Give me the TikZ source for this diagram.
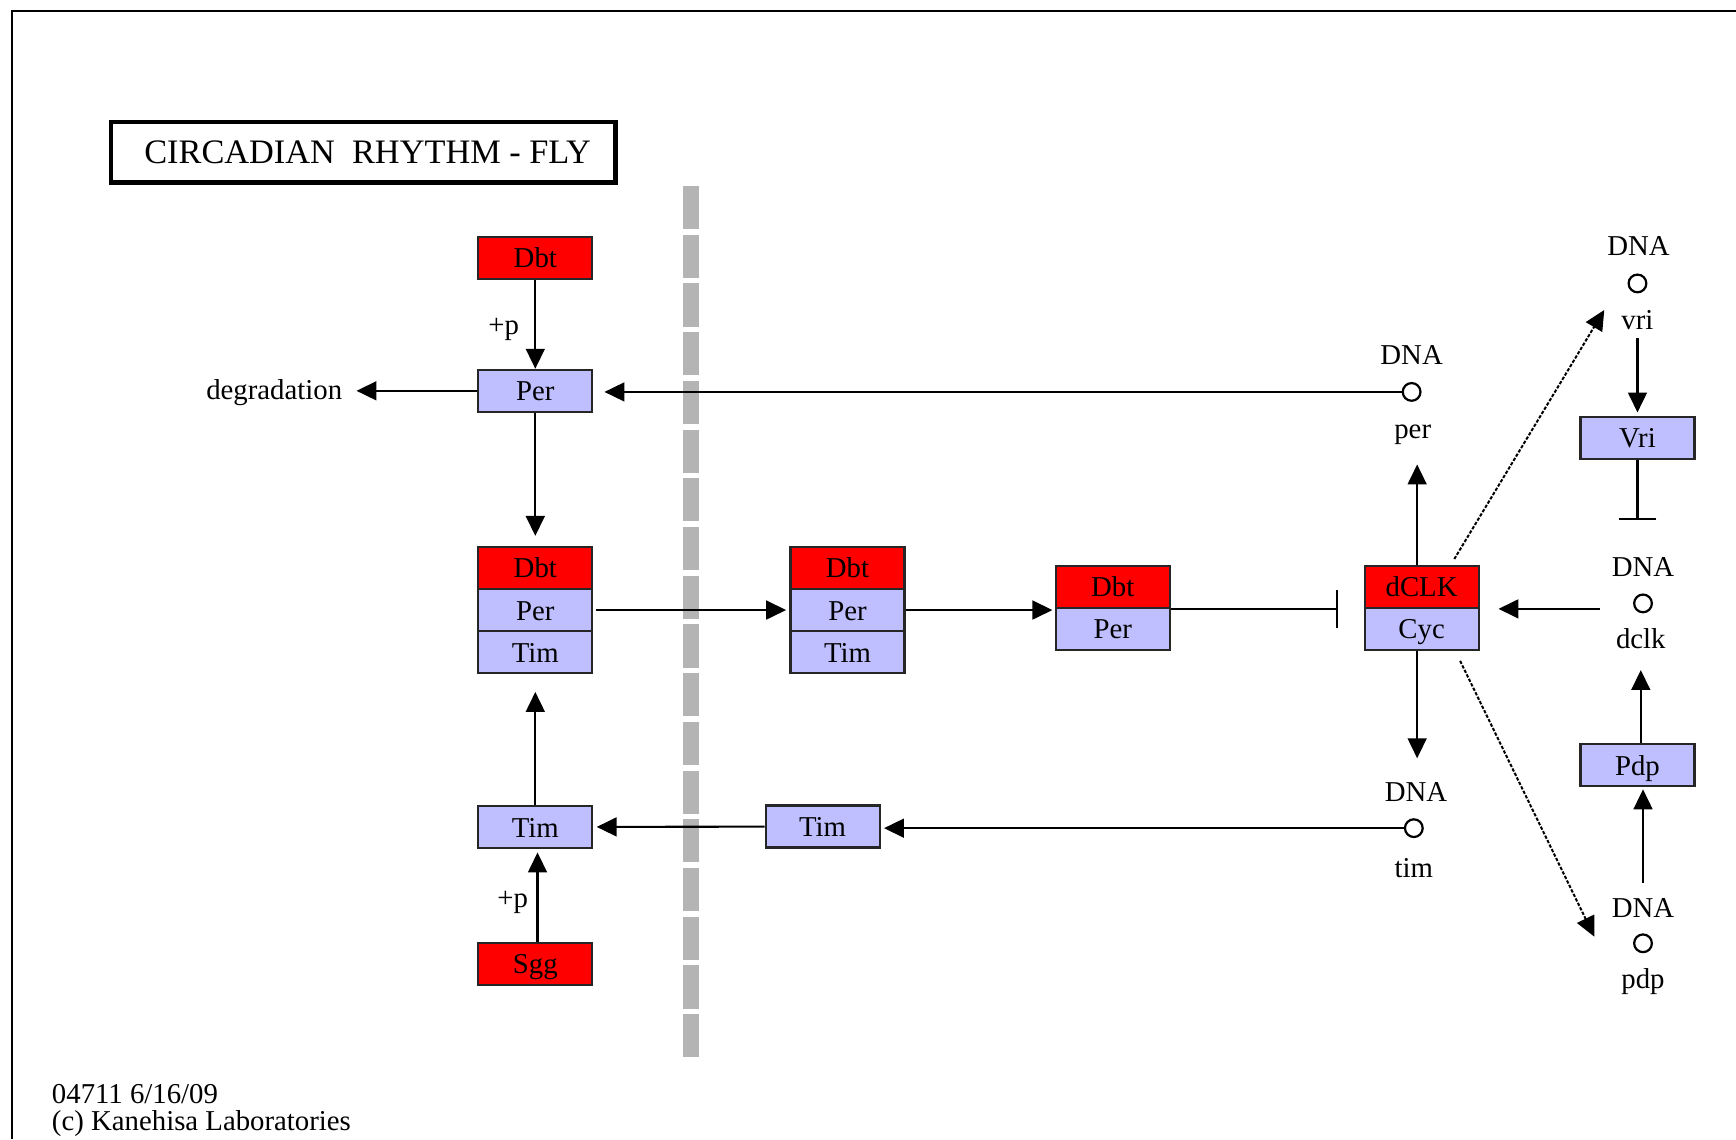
\documentclass[tikz,border=0pt]{standalone}
\usepackage{fontspec}
\setmainfont{Liberation Serif}
\usetikzlibrary{arrows.meta}

\definecolor{protblue}{RGB}{191,191,255}
\definecolor{kinred}{RGB}{255,0,0}
\definecolor{membrane}{RGB}{180,180,180}

\begin{document}
\begin{tikzpicture}[
    x=1pt, y=-1pt,
    font=\fontsize{26pt}{28pt}\selectfont,
    >={Triangle[length=18pt,width=17pt]},
    line width=1.9pt,
    prot/.style={
        draw=black!85,
        fill=protblue,
        rectangle,
        minimum width=103pt,
        minimum height=38pt,
        inner sep=0pt,
        text height=19pt,
        text depth=1pt
    },
    kin/.style={prot, fill=kinred},
    dna/.style={draw, circle, minimum size=16pt, inner sep=0pt, line width=2pt},
    dnatxt/.style={inner sep=0pt, anchor=base},
    act/.style={->},
    inh/.style={-{Bar[width=34pt]}},
    expr/.style={->, dash pattern=on 3pt off 1.5pt, line width=1.8pt}
]
\useasboundingbox (0,0) rectangle (1568,1029);

% frame and cell membrane
\draw[line width=2.2pt] (11,1029) -- (11,10) -- (1568,10);
\draw[membrane, line width=14pt, dash pattern=on 39pt off 5pt] (624,168) -- (624,955);

\node[draw, line width=4pt, minimum width=456pt, minimum height=55pt,
      font=\fontsize{31pt}{33pt}\selectfont] (title) at (328,137.5) {\hspace{8pt}CIRCADIAN\ \ RHYTHM - FLY};

% cytoplasm
\node[kin] (dbt1) at (483.5,233) {Dbt};
\node[prot] (per1) at (483.5,353) {Per};
\node[inner sep=0pt, anchor=base east] (degr) at (310,361) {degradation};
\node[kin] (cx1dbt) at (483.5,513) {Dbt};
\node[prot] (cx1per) at (483.5,551) {Per};
\node[prot] (cx1tim) at (483.5,589) {Tim};
\node[prot] (tim1) at (483.5,747) {Tim};
\node[kin] (sgg) at (483.5,870.5) {Sgg};
\node[inner sep=0pt, anchor=base] (p1) at (455,302) {+p};
\node[inner sep=0pt, anchor=base] (p2) at (463,820) {+p};

% nucleus
\node[kin] (cx2dbt) at (765.5,513) {Dbt};
\node[prot] (cx2per) at (765.5,551) {Per};
\node[prot] (cx2tim) at (765.5,589) {Tim};
\node[prot] (tim2) at (743,746.5) {Tim};
\node[kin] (c3dbt) at (1005,530) {Dbt};
\node[prot] (c3per) at (1005,568) {Per};
\node[kin] (clkdbt) at (1284,530) {dCLK};
\node[prot] (cycbox) at (1284,568) {Cyc};
\node[prot] (vribox) at (1479,395.5) {Vri};
\node[prot] (pdpbox) at (1479,691) {Pdp};

% genes
\node[dna] (perG) at (1275,354) {};
\node[dnatxt] (perD) at (1275,329) {DNA};
\node[dnatxt] (perL) at (1276,396) {per};
\node[dna] (timG) at (1277,748) {};
\node[dnatxt] (timD) at (1279,724) {DNA};
\node[dnatxt] (timL) at (1277,793) {tim};
\node[dna] (vriG) at (1479,256) {};
\node[dnatxt] (vriD) at (1480,231) {DNA};
\node[dnatxt] (vriL) at (1479,298) {vri};
\node[dna] (dclkG) at (1484,545) {};
\node[dnatxt] (dclkD) at (1484,521) {DNA};
\node[dnatxt] (dclkL) at (1482,586) {dclk};
\node[dna] (pdpG) at (1484,852) {};
\node[dnatxt] (pdpD) at (1484,829) {DNA};
\node[dnatxt] (pdpL) at (1484,893) {pdp};

\coordinate (vriIn) at (1449,280);
\coordinate (pdpIn) at (1440,846);

% connectors
\draw[act] (dbt1) -- (per1);
\draw[act, shorten >=12pt] (per1.west) -- (per1.west -| degr.east);
\draw[act, shorten >=10pt] (perG.west) -- (perG.west -| per1.east);
\draw[act, shorten >=9pt] (per1) -- (cx1dbt);
\draw[act, shorten <=2pt, shorten >=3pt] (cx1per) -- (cx2per);
\draw[act, shorten >=2pt] (cx2per.east) -- (cx2per.east -| c3dbt.south west);
\draw[inh, shorten >=23pt] (c3dbt.south east) -- (c3dbt.south east -| clkdbt.west);
\draw[act, shorten >=17pt] ([xshift=-4pt]clkdbt.north) -- ([xshift=-4pt]clkdbt.north |- perL.south);
\draw[act, shorten >=21pt] ([xshift=-4pt]cycbox.south) -- ([xshift=-4pt]cycbox.south |- timD.north);
\draw[act, shorten >=3pt] (timG.west) -- (timG.west -| tim2.east);
\draw[act, shorten >=3pt] (tim2) -- (tim1);
\draw[act, shorten >=16pt] (tim1) -- (cx1tim);
\draw[act, shorten >=3pt] ([xshift=2pt]sgg.north) -- ([xshift=2pt]tim1.south);
\draw[expr, shorten <=6pt] ([xshift=-26pt]clkdbt.north east) -- (vriIn);
\draw[expr, shorten <=10pt] ([xshift=-22pt]cycbox.south east) -- (pdpIn);
\draw[act, shorten <=6pt, shorten >=3pt] (vriL.south) -- (vribox.north);
\draw[inh, shorten >=33pt] (vribox.south) -- (vribox.south |- dclkD.north);
\draw[act, shorten <=30pt, shorten >=17pt] (dclkG.west |- clkdbt.south east) -- (clkdbt.south east);
\draw[act, shorten >=18pt] ([xshift=3pt]pdpbox.north) -- ([xshift=3pt]pdpbox.north |- dclkL.south);
\draw[act, shorten <=13pt, shorten >=2pt] (pdpD.north) -- (pdpD.north |- pdpbox.south);

% map footer
\node[inner sep=0pt, anchor=base west] (mapid) at (46,997) {04711 6/16/09};
\node[inner sep=0pt, anchor=base west] (copyr) at (46,1021) {(c) Kanehisa Laboratories};
\end{tikzpicture}
\end{document}
